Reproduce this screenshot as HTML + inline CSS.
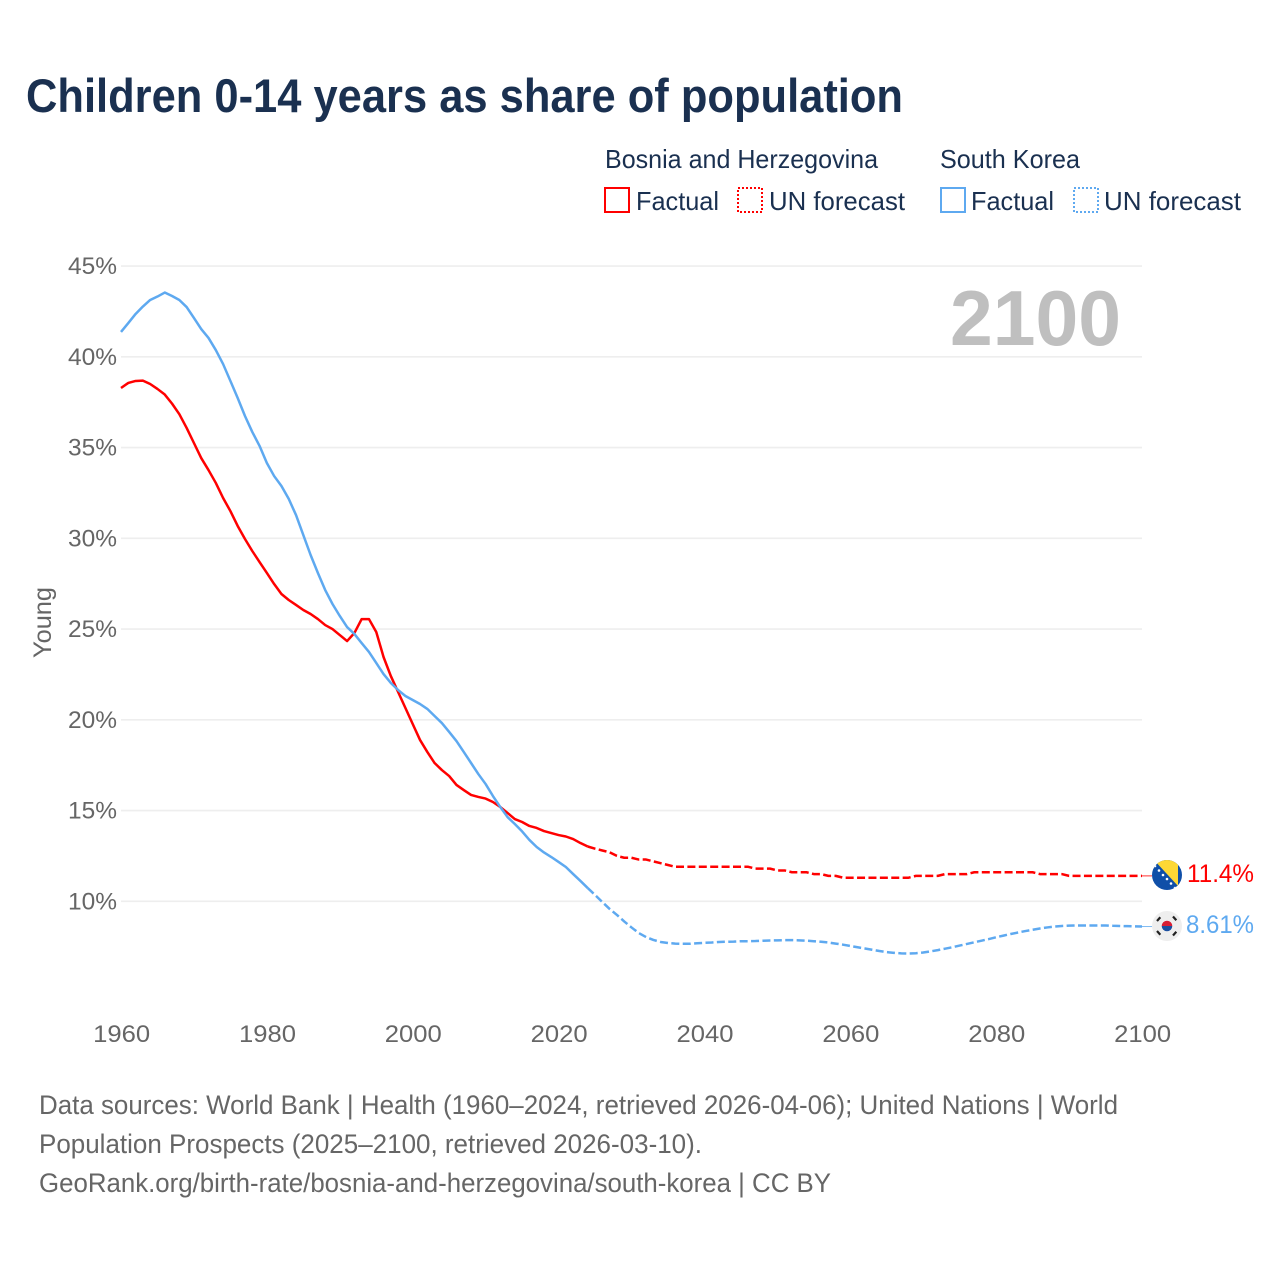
<!DOCTYPE html>
<html lang="en">
<head>
<meta charset="utf-8">
<title>Children 0-14 years as share of population</title>
<style>
html,body{margin:0;padding:0;background:#fff;width:1280px;height:1280px;overflow:hidden}
svg{display:block}
text{font-family:"Liberation Sans",sans-serif}
</style>
</head>
<body>
<svg id="chart" xmlns="http://www.w3.org/2000/svg" width="1280" height="1280" viewBox="0 0 1280 1280">
  <rect width="1280" height="1280" fill="#fff"/>
  <text x="26" y="112" font-size="47" font-weight="700" fill="#1a3050" textLength="877" lengthAdjust="spacingAndGlyphs">Children 0-14 years as share of population</text>

  <g font-size="26" fill="#1a3050">
    <text x="605" y="168" textLength="273" lengthAdjust="spacingAndGlyphs">Bosnia and Herzegovina</text>
    <text x="940" y="168" textLength="140" lengthAdjust="spacingAndGlyphs">South Korea</text>
    <rect x="605" y="188" width="24" height="24" fill="none" stroke="#ff0000" stroke-width="2"/>
    <text x="636" y="210" textLength="83" lengthAdjust="spacingAndGlyphs">Factual</text>
    <rect x="738" y="188" width="24" height="24" fill="none" stroke="#ff0000" stroke-width="2" stroke-dasharray="2 2"/>
    <text x="769" y="210" textLength="136" lengthAdjust="spacingAndGlyphs">UN forecast</text>
    <rect x="941" y="188" width="24" height="24" fill="none" stroke="#5ea9f0" stroke-width="2"/>
    <text x="971" y="210" textLength="83" lengthAdjust="spacingAndGlyphs">Factual</text>
    <rect x="1074" y="188" width="24" height="24" fill="none" stroke="#5ea9f0" stroke-width="2" stroke-dasharray="2 2"/>
    <text x="1104" y="210" textLength="137" lengthAdjust="spacingAndGlyphs">UN forecast</text>
  </g>

  <g id="grid"></g>
  <g id="yticks"></g>
  <g id="xticks"></g>
  <text transform="translate(51 658) rotate(-90)" font-size="25" fill="#666" textLength="71" lengthAdjust="spacingAndGlyphs">Young</text>
  <text x="950" y="345" font-size="78" font-weight="700" fill="#bfbfbf" textLength="171" lengthAdjust="spacingAndGlyphs">2100</text>
  <g id="series"></g>

  <defs>
    <clipPath id="flag-ba-clip"><circle cx="1167" cy="875" r="15"/></clipPath>
    <clipPath id="flag-kr-clip"><circle cx="1167" cy="926" r="15"/></clipPath>
  </defs>
  <g clip-path="url(#flag-ba-clip)">
    <rect x="1152" y="860" width="30" height="30" fill="#0f4fa8"/>
    <polygon points="1154,860 1178,860 1178,886" fill="#fdd835"/>
    <g fill="#fff">
      <circle cx="1155" cy="866" r="1.3"/><circle cx="1159" cy="870.5" r="1.3"/><circle cx="1163" cy="875" r="1.3"/>
      <circle cx="1167" cy="879" r="1.3"/><circle cx="1171" cy="883.5" r="1.3"/><circle cx="1175" cy="888" r="1.3"/>
    </g>
  </g>
  <g clip-path="url(#flag-kr-clip)">
    <rect x="1152" y="911" width="30" height="30" fill="#eeeeee"/>
    <path d="M1161.7 926 a5.3 5.3 0 0 1 10.6 0 z" fill="#d81e34"/>
    <path d="M1161.7 926 a5.3 5.3 0 0 0 10.6 0 z" fill="#1a4fa0"/>
    <g stroke="#222" stroke-width="2.2" stroke-dasharray="5 1">
      <path d="M1157 921 l4 -4.5"/><path d="M1173 916.5 l4 4.5"/><path d="M1157 931 l4 4.5"/><path d="M1173 935.5 l4 -4.5"/>
    </g>
  </g>
  <text id="label-bosnia" x="1187" y="882" font-size="25" fill="#ff0000" textLength="67" lengthAdjust="spacingAndGlyphs">11.4%</text>
  <text id="label-korea" x="1186" y="933" font-size="25" fill="#5ea9f0" textLength="68" lengthAdjust="spacingAndGlyphs">8.61%</text>

  <g font-size="26.5" fill="#666">
    <text x="39" y="1114" textLength="1079" lengthAdjust="spacingAndGlyphs">Data sources: World Bank | Health (1960–2024, retrieved 2026-04-06); United Nations | World</text>
    <text x="39" y="1153" textLength="663" lengthAdjust="spacingAndGlyphs">Population Prospects (2025–2100, retrieved 2026-03-10).</text>
    <text x="39" y="1192" textLength="792" lengthAdjust="spacingAndGlyphs">GeoRank.org/birth-rate/bosnia-and-herzegovina/south-korea | CC BY</text>
  </g>
</svg>
<script>
const firstYear = 1960;
const yTickValues = [10, 15, 20, 25, 30, 35, 40, 45];
const xTickValues = [1960, 1980, 2000, 2020, 2040, 2060, 2080, 2100];
const bosniaFactual = [38.28,38.56,38.67,38.69,38.50,38.23,37.92,37.42,36.84,36.08,35.25,34.42,33.76,33.05,32.22,31.50,30.68,29.96,29.30,28.69,28.09,27.48,26.93,26.60,26.33,26.05,25.83,25.55,25.22,25.00,24.67,24.34,24.78,25.55,25.55,24.84,23.46,22.41,21.53,20.65,19.77,18.89,18.23,17.62,17.23,16.90,16.41,16.13,15.86,15.75,15.66,15.47,15.20,14.87,14.53,14.37,14.15,14.04,13.87,13.76,13.65,13.57,13.43,13.21,13.02];
const bosniaForecast = [12.9,12.8,12.7,12.5,12.4,12.4,12.3,12.3,12.2,12.1,12.0,11.9,11.9,11.9,11.9,11.9,11.9,11.9,11.9,11.9,11.9,11.9,11.8,11.8,11.8,11.7,11.7,11.6,11.6,11.6,11.5,11.5,11.4,11.4,11.3,11.3,11.3,11.3,11.3,11.3,11.3,11.3,11.3,11.3,11.4,11.4,11.4,11.4,11.5,11.5,11.5,11.5,11.6,11.6,11.6,11.6,11.6,11.6,11.6,11.6,11.6,11.5,11.5,11.5,11.5,11.4,11.4,11.4,11.4,11.4,11.4,11.4,11.4,11.4,11.4,11.4];
const koreaFactual = [41.37,41.86,42.36,42.77,43.13,43.32,43.54,43.35,43.13,42.74,42.14,41.53,41.04,40.37,39.60,38.67,37.73,36.74,35.86,35.09,34.15,33.43,32.88,32.17,31.28,30.18,29.08,28.09,27.15,26.38,25.72,25.11,24.73,24.23,23.74,23.13,22.52,22.03,21.64,21.31,21.09,20.87,20.60,20.21,19.82,19.33,18.83,18.23,17.62,17.01,16.46,15.80,15.20,14.64,14.26,13.85,13.38,12.99,12.69,12.44,12.17,11.89,11.50,11.12,10.73];
const koreaForecast = [10.35,9.96,9.58,9.25,8.89,8.56,8.25,8.03,7.87,7.76,7.70,7.67,7.66,7.66,7.69,7.71,7.73,7.76,7.77,7.78,7.80,7.80,7.81,7.83,7.84,7.85,7.86,7.86,7.85,7.83,7.80,7.77,7.73,7.67,7.61,7.54,7.47,7.40,7.33,7.26,7.20,7.16,7.13,7.12,7.14,7.18,7.24,7.31,7.39,7.47,7.56,7.65,7.74,7.83,7.92,8.02,8.11,8.20,8.28,8.36,8.43,8.50,8.56,8.61,8.64,8.66,8.67,8.67,8.67,8.67,8.67,8.65,8.64,8.63,8.62,8.61];

const SVG_NS = 'http://www.w3.org/2000/svg';
const plot = { left: 121, right: 1142, y10: 901.3, pxPerPct: 18.15 };
const lastYear = firstYear + bosniaFactual.length + bosniaForecast.length - 1;
function xScale(year) {
  return plot.left + (year - firstYear) * (plot.right - plot.left) / (lastYear - firstYear);
}
function yScale(v) {
  return plot.y10 - (v - 10) * plot.pxPerPct;
}
function make(tag, attrs, parent, text) {
  const el = document.createElementNS(SVG_NS, tag);
  Object.keys(attrs).forEach(function (k) { el.setAttribute(k, attrs[k]); });
  if (text !== undefined) el.textContent = text;
  parent.appendChild(el);
  return el;
}
function pathFrom(values, startYear) {
  return values.map(function (v, i) {
    return (i ? 'L' : 'M') + xScale(startYear + i).toFixed(2) + ' ' + yScale(v).toFixed(2);
  }).join(' ');
}

const grid = document.getElementById('grid');
const yticks = document.getElementById('yticks');
const xticks = document.getElementById('xticks');
const series = document.getElementById('series');

yTickValues.forEach(function (v) {
  const line = make('line', { x1: plot.left, x2: plot.right, y1: yScale(v), y2: yScale(v), stroke: '#eeeeee', 'stroke-width': 1.6 }, grid);
  
  
  const label = make('text', { x: 117, y: yScale(v) + 8, 'text-anchor': 'end', 'font-size': 24.5, fill: '#666', textLength: 49, lengthAdjust: 'spacingAndGlyphs' }, yticks, v + '%');
  
  
});
xTickValues.forEach(function (year) {
  const label = make('text', { x: xScale(year) + 0.6, y: 1042, 'text-anchor': 'middle', 'font-size': 24.5, fill: '#666', textLength: 57, lengthAdjust: 'spacingAndGlyphs' }, xticks, String(year));
  
  
});

function drawSeries(key, color, factual, forecast) {
  const splitYear = firstYear + factual.length - 1;
  const lastFactual = factual[factual.length - 1];
  const lastForecast = forecast[forecast.length - 1];
  const solid = make('path', { d: pathFrom(factual, firstYear), fill: 'none', stroke: color, 'stroke-width': 2.5, 'stroke-linejoin': 'round' }, series);
  
  
  const dashed = make('path', { d: pathFrom([lastFactual].concat(forecast), splitYear), fill: 'none', stroke: color, 'stroke-width': 2.5, 'stroke-dasharray': '8 3.4', 'stroke-linejoin': 'round' }, series);
  
  
  const connector = make('line', { x1: plot.right, x2: plot.right + 10, y1: yScale(lastForecast), y2: yScale(lastForecast), stroke: color, 'stroke-width': 1, opacity: 0.8 }, series);
  
  
}
drawSeries('bosnia', '#ff0000', bosniaFactual, bosniaForecast);
drawSeries('south-korea', '#5ea9f0', koreaFactual, koreaForecast);
</script>
</body>
</html>
